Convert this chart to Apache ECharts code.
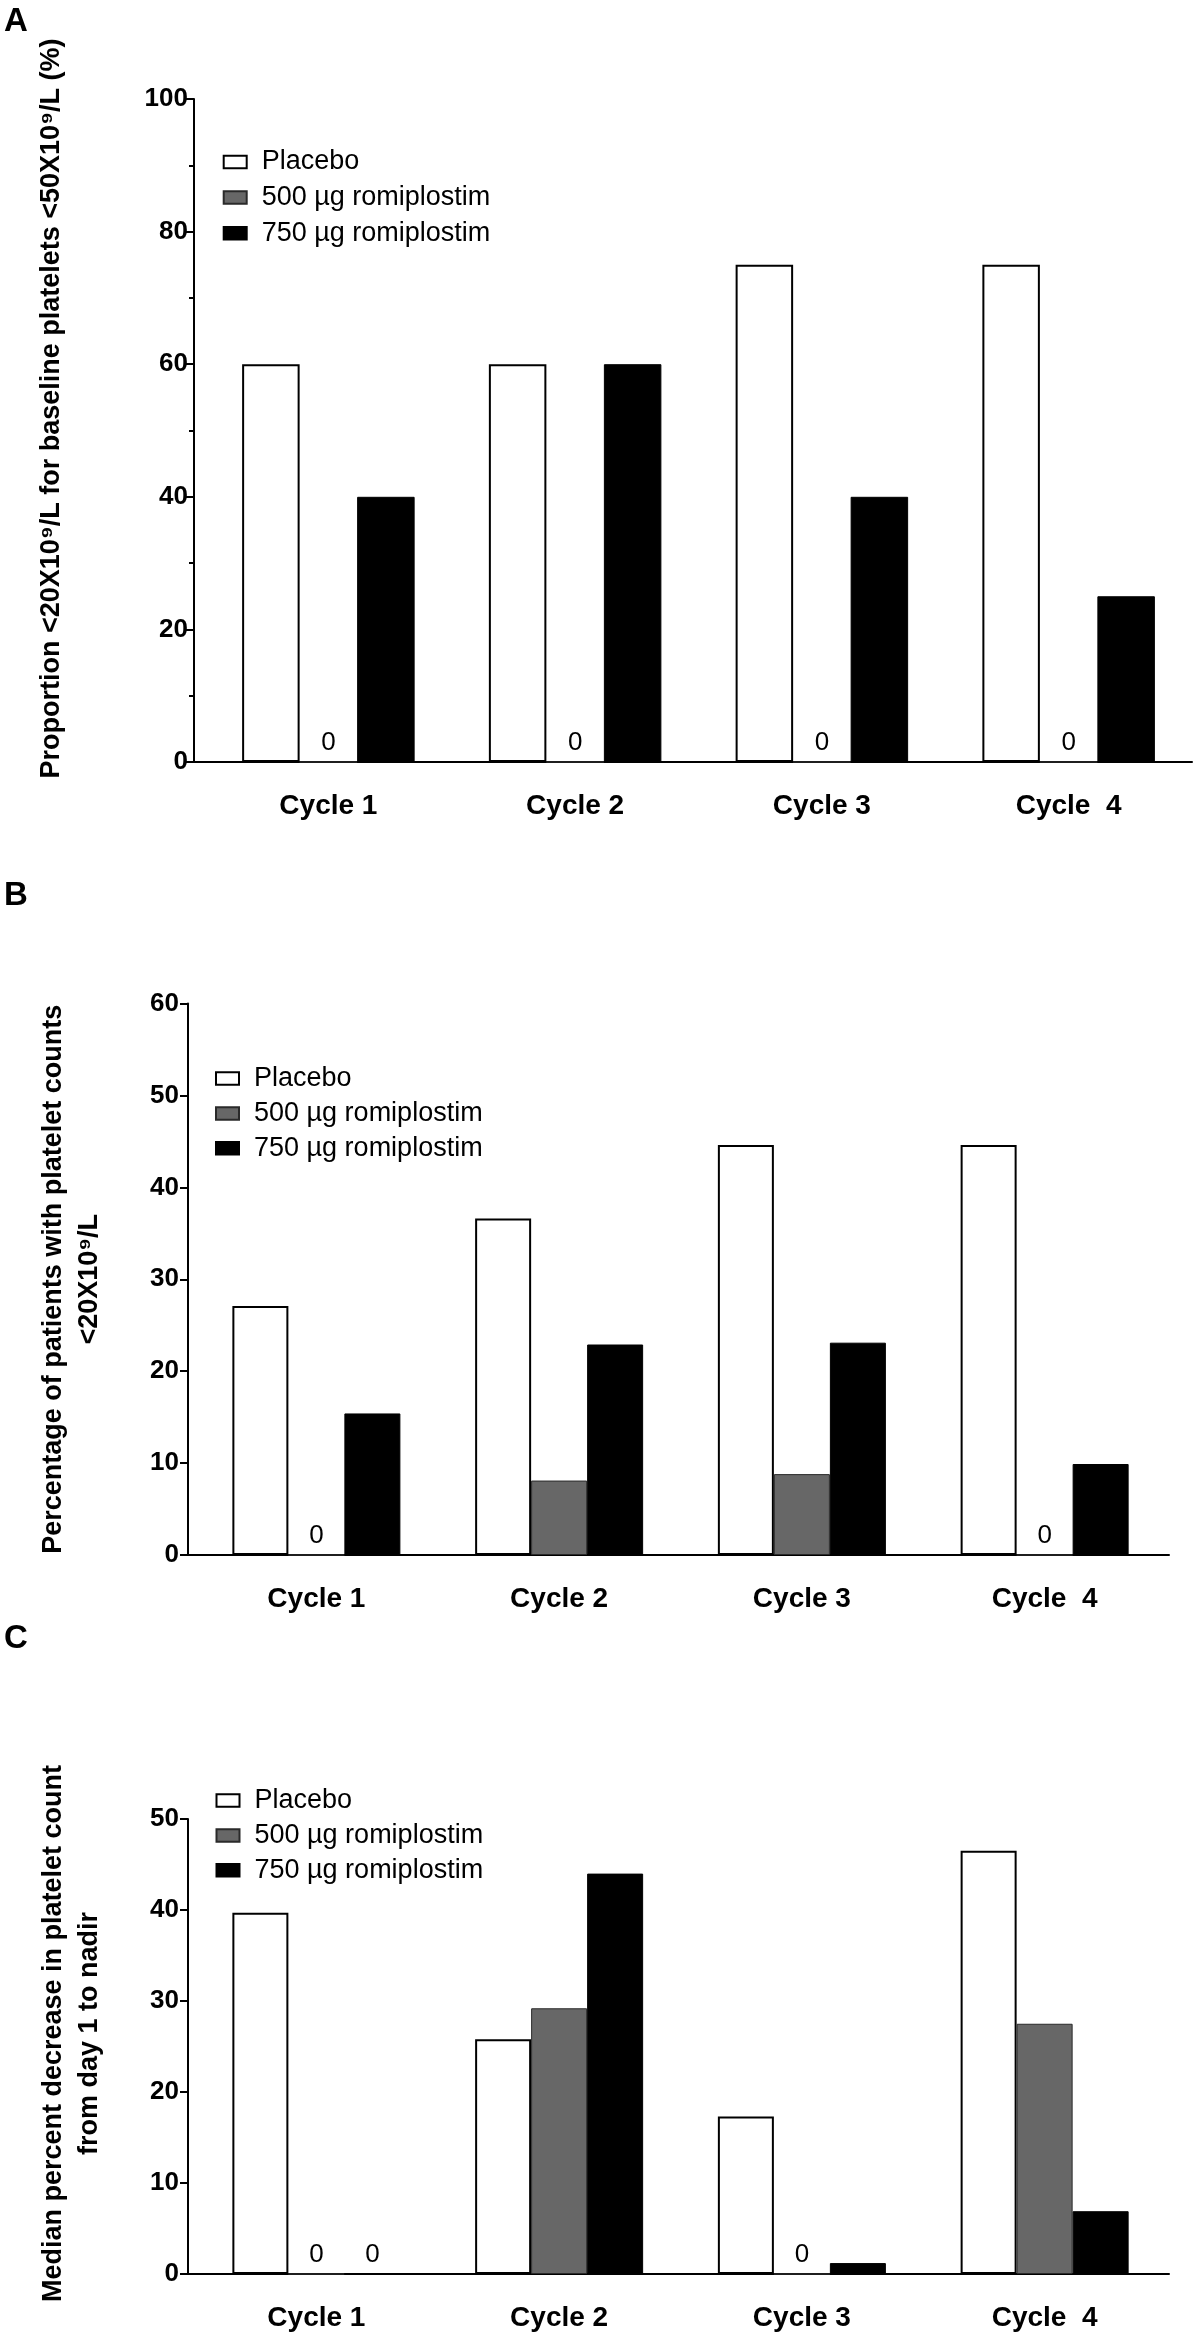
<!DOCTYPE html>
<html><head><meta charset="utf-8">
<script src="https://cdn.jsdelivr.net/npm/echarts@6/dist/echarts.min.js"></script>
<style>html,body{margin:0;padding:0;background:#fff}#c{width:1200px;height:2337px}</style>
</head><body><div id="c"></div>
<script>
// ---- data ----
const categories = ['Cycle 1', 'Cycle 2', 'Cycle 3', 'Cycle  4'];
const seriesNames = ['Placebo', '500 µg romiplostim', '750 µg romiplostim'];
const panelLetters = ['A', 'B', 'C'];
const axisTitleA = 'Proportion <20X10⁹/L for baseline platelets <50X10⁹/L (%)';
const axisTitleB = 'Percentage of patients with platelet counts\n<20X10⁹/L';
const axisTitleC = 'Median percent decrease in platelet count\nfrom day 1 to nadir';
const aPlacebo = [60, 60, 75, 75];
const a500 = [0, 0, 0, 0];
const a750 = [40, 60, 40, 25];
const bPlacebo = [27.1, 36.6, 44.6, 44.6];
const b500 = [0, 8.1, 8.8, 0];
const b750 = [15.4, 22.9, 23.1, 9.9];
const cPlacebo = [39.7, 25.8, 17.3, 46.5];
const c500 = [0, 29.2, 0, 27.5];
const c750 = [0, 44.0, 1.2, 6.9];
const yTicksA = [0, 20, 40, 60, 80, 100];
const yTicksB = [0, 10, 20, 30, 40, 50, 60];
const yTicksC = [0, 10, 20, 30, 40, 50];

// ---- styles / layout ----
const FONT = 'Liberation Sans, Arial, sans-serif';
const barStyles = [
  {color: '#ffffff', borderColor: '#000', borderWidth: 2},
  {color: '#676767', borderColor: '#2a2a2a', borderWidth: 1},
  {color: '#000000', borderColor: '#000', borderWidth: 1}
];
const panels = [
  {letterTop: 5, data: [aPlacebo, a500, a750], ticks: yTicksA, minor: true, title: axisTitleA,
   bars: {left: 205, width: 987}, aux: {left: 194, width: 998}, top: 99, height: 663,
   barWidth: 57.5, tickLen: 10, labelMargin: 6, nameGap: 124, namePad: [0, 0, 0, 44],
   legend: {left: 222.7, top: 148.5, gap: 8.6}},
  {letterTop: 879, data: [bPlacebo, b500, b750], ticks: yTicksB, minor: false, title: axisTitleB,
   bars: {left: 195, width: 971}, aux: {left: 188, width: 981}, top: 1003.5, height: 551.5,
   barWidth: 56, tickLen: 8, labelMargin: 9, nameGap: 80, namePad: [0, 0, 0, 0],
   legend: {left: 215, top: 1065, gap: 7.9}},
  {letterTop: 1622, data: [cPlacebo, c500, c750], ticks: yTicksC, minor: false, title: axisTitleC,
   bars: {left: 195, width: 971}, aux: {left: 188, width: 981}, top: 1819, height: 455,
   barWidth: 56, tickLen: 8, labelMargin: 9, nameGap: 80, namePad: [0, 0, 0, 26],
   legend: {left: 215.5, top: 1787, gap: 7.9}}
];

const option = {
  animation: false,
  backgroundColor: '#fff',
  title: [], grid: [], xAxis: [], yAxis: [], series: [], legend: []
};

panels.forEach((p, i) => {
  const gBars = i * 2, gAux = i * 2 + 1;
  const ymin = p.ticks[0], ymax = p.ticks[p.ticks.length - 1], step = p.ticks[1] - p.ticks[0];
  option.title.push({
    text: panelLetters[i], left: 4, top: p.letterTop, padding: 0,
    textStyle: {fontFamily: FONT, fontWeight: 'bold', fontSize: 33, color: '#000'}
  });
  option.grid.push({left: p.bars.left, width: p.bars.width, top: p.top, height: p.height, outerBoundsMode: 'none'});
  option.grid.push({left: p.aux.left, width: p.aux.width, top: p.top, height: p.height, outerBoundsMode: 'none'});
  option.xAxis.push({
    type: 'category', gridIndex: gBars, data: categories,
    axisLine: {show: false}, axisTick: {show: false},
    axisLabel: {margin: 30, fontFamily: FONT, fontWeight: 'bold', fontSize: 28, color: '#000', interval: 0}
  });
  option.xAxis.push({
    type: 'value', gridIndex: gAux, min: 0, max: 1,
    axisLine: {show: true, lineStyle: {color: '#000', width: 2}},
    axisTick: {show: false}, axisLabel: {show: false}, splitLine: {show: false}
  });
  option.yAxis.push({
    type: 'value', gridIndex: gBars, min: ymin, max: ymax, interval: step, show: false
  });
  option.yAxis.push({
    type: 'value', gridIndex: gAux, min: ymin, max: ymax, interval: step,
    axisLine: {show: true, lineStyle: {color: '#000', width: 2}},
    axisTick: {show: true, length: p.tickLen, lineStyle: {color: '#000', width: 2}},
    minorTick: {show: p.minor, splitNumber: 2, length: 5, lineStyle: {color: '#000', width: 2}},
    splitLine: {show: false}, minorSplitLine: {show: false},
    axisLabel: {margin: p.labelMargin, fontFamily: FONT, fontWeight: 'bold', fontSize: 26, color: '#000'},
    name: p.title, nameLocation: 'middle', nameRotate: 90, nameGap: p.nameGap,
    nameTextStyle: {fontFamily: FONT, fontWeight: 'bold', fontSize: 27, color: '#000',
      lineHeight: 36, padding: p.namePad}
  });
  seriesNames.forEach((name, k) => {
    option.series.push({
      type: 'bar', name: name, xAxisIndex: gBars, yAxisIndex: gBars,
      data: p.data[k], barWidth: p.barWidth, barGap: '0%',
      itemStyle: barStyles[k],
      label: {show: true, position: 'top', distance: 6,
        formatter: (d) => (d.value === 0 ? '0' : ''),
        fontFamily: FONT, fontSize: 26, fontWeight: 'normal', color: '#000'}
    });
  });
  option.legend.push({
    data: seriesNames, orient: 'vertical', left: p.legend.left, top: p.legend.top,
    padding: 0, itemWidth: 23, itemHeight: 12.5, itemGap: p.legend.gap, icon: 'rect',
    selectedMode: false,
    textStyle: {fontFamily: FONT, fontSize: 27, lineHeight: 24, color: '#000', padding: [0, 0, 0, 10]}
  });
});

const chart = echarts.init(document.getElementById('c'), null, {renderer: 'canvas'});
chart.setOption(option);
</script></body></html>
